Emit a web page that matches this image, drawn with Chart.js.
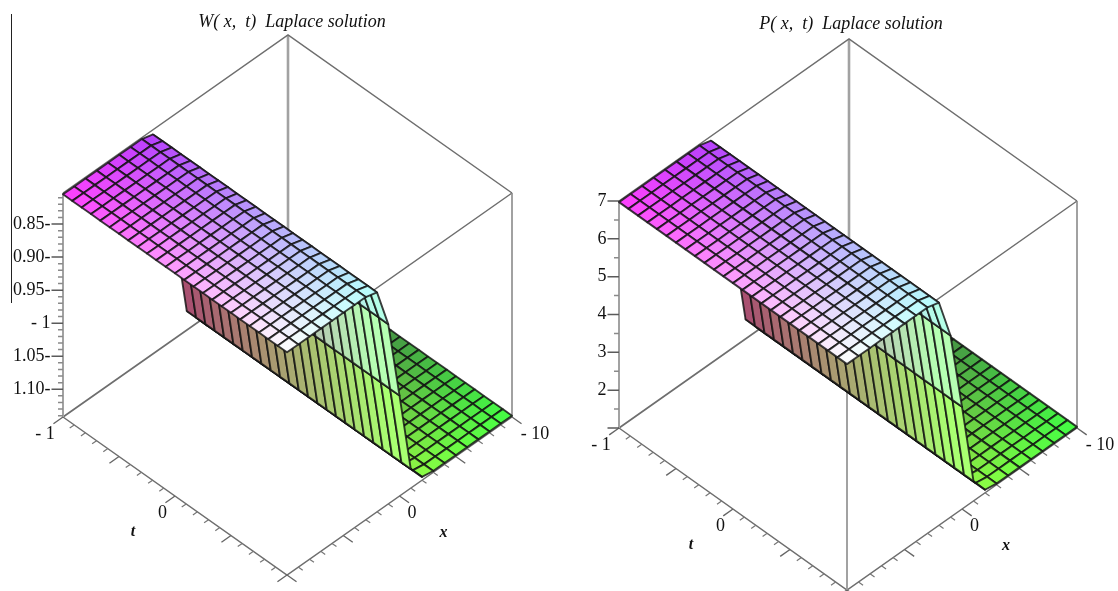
<!DOCTYPE html>
<html>
<head>
<meta charset="utf-8">
<style>
html,body{margin:0;padding:0;background:#fff;width:1118px;height:591px;overflow:hidden}
canvas{position:absolute;top:0;filter:blur(0.5px)}
#edge{position:absolute;left:11px;top:14px;width:1px;height:289px;background:#222}
</style>
<script src="https://cdn.jsdelivr.net/npm/chart.js@4"></script>
</head>
<body>
<canvas id="w"></canvas>
<canvas id="p"></canvas>
<div id="edge"></div>
<script>
// ---------- values ----------
const xGrid = [-10,-9,-8,-7,-6,-5,-4,-3,-2,-1,0,1,2,3,4,5,6,7,8,9,10];
const tGrid = [-1,-0.9167,-0.8333,-0.75,-0.6667,-0.5833,-0.5,-0.4167,-0.3333,-0.25,-0.1667,-0.0833,0,0.0833,0.1667,0.25,0.3333,0.4167,0.5,0.5833,0.6667,0.75,0.8333,0.9167,1];
const wValues = [-1.14,-1.14,-1.14,-1.14,-1.14,-1.14,-1.14,-1.14,-1.137,-1.113,-0.99,-0.87,-0.81,-0.805,-0.805,-0.805,-0.805,-0.805,-0.805,-0.805,-0.805];
const pValues = [1.03,1.03,1.03,1.03,1.03,1.03,1.03,1.03,1.08,1.52,3.7,5.8,6.88,6.97,6.97,6.97,6.97,6.97,6.97,6.97,6.97];
const tAxisTicks = [-1,-0.9,-0.8,-0.7,-0.6,-0.5,-0.4,-0.3,-0.2,-0.1,0,0.1,0.2,0.3,0.4,0.5,0.6,0.7,0.8,0.9,1];
const tMajorTicks = [-1,-0.5,0,0.5,1];
const xMajorTicks = [-10,-5,0,5,10];
const wMajorTicks = [-1.10,-1.05,-1.00,-0.95,-0.90,-0.85];
const wMinorTicks = [-1.14,-1.13,-1.12,-1.11,-1.09,-1.08,-1.07,-1.06,-1.04,-1.03,-1.02,-1.01,-0.99,-0.98,-0.97,-0.96,-0.94,-0.93,-0.92,-0.91,-0.89,-0.88,-0.87,-0.86,-0.84,-0.83,-0.82,-0.81];
const pMajorTicks = [1,2,3,4,5,6,7];
const pMinorTicks = [1.5,2.5,3.5,4.5,5.5,6.5];
const wTickValues = [-0.85,-0.90,-0.95,-1,-1.05,-1.10];
const wTickLabels = ['0.85-','0.90-','0.95-','- 1','1.05-','1.10-'];
const pTickValues = [2,3,4,5,6,7];
const pTickLabels = ['2','3','4','5','6','7'];
const tTickValues = [-1,0];
const tTickLabels = ['- 1','0'];
const xTickValues = [-10,0];
const xTickLabels = ['- 10','0'];
const wTitle = 'W( x,  t)  Laplace solution';
const pTitle = 'P( x,  t)  Laplace solution';
const wRange = [-1.142,-0.803];
const pRange = [1,7];

// ---------- one panel ----------
function panel(id, o){
  const cv = document.getElementById(id);
  cv.style.left = o.left + 'px';
  const H = 591, titleH = o.titleTop + 21.6 + 1;
  const zf = z => (z - o.range[0]) / (o.range[1] - o.range[0]);
  // oblique 3-D view: x=10,t=1 is the near corner
  function proj(x, t, z){
    const a = (t + 1) / 2, b = (10 - x) / 20;
    const px = o.L[0] + a * (o.F[0] - o.L[0]) + b * (o.R[0] - o.F[0]);
    const py = o.L[1] + a * (o.F[1] - o.L[1]) + b * (o.R[1] - o.F[1]) - zf(z) * o.h;
    return {x: px, y: H - py};
  }
  const zLo = o.range[0], zHi = o.range[1], datasets = [];
  const line = (pts, color, width) => datasets.push({data: pts, showLine: true, pointRadius: 0, borderColor: color, borderWidth: width, fill: false, tension: 0, clip: false, spanGaps: false});
  const GAP = {x: null, y: null};
  // box
  const boxC = '#6e6e6e', postC = '#a2a2a2';
  line([proj(-10,-1,zLo), proj(-10,-1,zHi)], postC, 2.6);
  line([proj(10,-1,zHi), proj(-10,-1,zHi), proj(-10,1,zHi)], boxC, 1.5);
  line([proj(10,-1,zHi), proj(10,1,zHi), proj(-10,1,zHi)], boxC, 1.5);
  line([proj(10,-1,zLo), proj(-10,-1,zLo), proj(-10,1,zLo)], boxC, 1.7);
  line([proj(10,-1,zLo), proj(10,1,zLo), proj(-10,1,zLo)], boxC, 1.5);
  line([proj(10,-1,zLo), proj(10,-1,zHi)], postC, 2);
  line([proj(-10,1,zLo), proj(-10,1,zHi)], '#8a8a8a', 1.6);
  if (o.frontPost) line([proj(10,1,zLo), proj(10,1,zHi)], postC, 2);
  // t ticks stick out past x=10; x ticks stick out past t=1
  const tt = [], ttM = [], xt = [], xtM = [];
  tAxisTicks.forEach(t => {
    const M = tMajorTicks.includes(t);
    (M ? ttM : tt).push(proj(10,t,zLo), proj(M ? 10.85 : 10.4, t, zLo), GAP);
  });
  xGrid.forEach(x => {
    const M = xMajorTicks.includes(x);
    (M ? xtM : xt).push(proj(x,1,zLo), proj(x, M ? 1.085 : 1.04, zLo), GAP);
  });
  line(tt,'#777',1.2); line(ttM,'#666',1.4); line(xt,'#777',1.2); line(xtM,'#666',1.4);
  // z ticks
  const zm = [], zn = [];
  o.major.forEach(z => { const p = proj(10,-1,z); zm.push(p, {x:p.x-11.5,y:p.y}, GAP); });
  o.minor.forEach(z => { const p = proj(10,-1,z); zn.push(p, {x:p.x-5,y:p.y}, GAP); });
  line(zm,'#5a5a5a',1.5); line(zn,'#8a8a8a',1.5);
  // surface, back to front
  for (let i = 0; i < xGrid.length - 1; i++) {
    for (let j = 0; j < tGrid.length - 1; j++) {
      const x0 = xGrid[i], x1 = xGrid[i+1], t0 = tGrid[j], t1 = tGrid[j+1];
      const z0 = o.values[i], z1 = o.values[i+1];
      const a = proj(x0,t0,z0), b = proj(x1,t0,z1), c = proj(x1,t1,z1), d = proj(x0,t1,z0);
      const xm = (x0+x1)/2, tm = (t0+t1)/2, f = zf((z0+z1)/2), lift = 4*f*(1-f);
      const R = 66 + (xm+10)/20*189 + 18*lift, G = 62 + (tm+1)/2*193 + 20*lift, B = 68 + 187*f - 6*lift;
      datasets.push({data:[a,b,c,d,a], showLine:true, pointRadius:0, tension:0, clip:false,
        borderColor:'rgba(18,18,18,0.82)', borderWidth:1.9, borderJoinStyle:'round',
        fill:'shape', backgroundColor:`rgb(${Math.min(255,R)|0},${Math.min(255,G)|0},${Math.min(255,B)|0})`});
    }
  }
  datasets.forEach((d,i) => d.order = datasets.length - i);

  const textPlugin = {
    id: 'axisText',
    afterDatasetsDraw(chart){
      const c = chart.ctx, sx = chart.scales.x, sy = chart.scales.y;
      const put = (p, dx, dy, s, font, align) => {
        c.font = font; c.textAlign = align || 'center'; c.textBaseline = 'middle'; c.fillStyle = '#111';
        c.fillText(s, sx.getPixelForValue(p.x) + dx, sy.getPixelForValue(p.y) + dy);
      };
      const num = '18px "Liberation Serif"', it = 'italic bold 16px "Liberation Serif"';
      o.labelValues.forEach((z,i) => put(proj(10,-1,z), -12.5, 0, o.labels[i], num, 'right'));
      tTickValues.forEach((t,i) => put(proj(10,t,zLo), t < 0 ? -18 : -12.5, 17, tTickLabels[i], num));
      xTickValues.forEach((x,i) => put(proj(x,1,zLo), x < 0 ? 23 : 12.5, 17, xTickLabels[i], num));
      put(proj(10,0,zLo), -42, 36, 't', it);
      put(proj(0,1,zLo), 44, 37, 'x', it);
    }
  };

  new Chart(cv, {
    type: 'scatter',
    data: {datasets},
    plugins: [textPlugin],
    options: {
      responsive: false, animation: false, events: [],
      layout: {padding: 0},
      scales: {
        x: {type:'linear', display:false, min:0, max:o.width},
        y: {type:'linear', display:false, min:0, max:H - titleH}
      },
      plugins: {
        legend: {display:false}, tooltip: {enabled:false},
        title: {display:true, text:o.title, color:'#111', align:'center',
          font:{family:'"Liberation Serif"', size:18, style:'italic', weight:'normal', lineHeight:1.2},
          padding:{top:o.titleTop, bottom:1}},
        filler: {propagate:false}
      }
    }
  });
  cv.style.position = 'absolute';
}
document.getElementById('w').width = 584; document.getElementById('w').height = 591;
document.getElementById('p').width = 534; document.getElementById('p').height = 591;
panel('w', {left:0, width:584, L:[63,417], F:[287,575], R:[512,417], h:224, range:wRange, values:wValues,
  major:wMajorTicks, minor:wMinorTicks, labelValues:wTickValues, labels:wTickLabels, title:wTitle, titleTop:11, frontPost:false});
panel('p', {left:584, width:534, L:[35,428], F:[263,590], R:[493,428], h:227, range:pRange, values:pValues,
  major:pMajorTicks, minor:pMinorTicks, labelValues:pTickValues, labels:pTickLabels, title:pTitle, titleTop:13, frontPost:true});
</script>
</body>
</html>
